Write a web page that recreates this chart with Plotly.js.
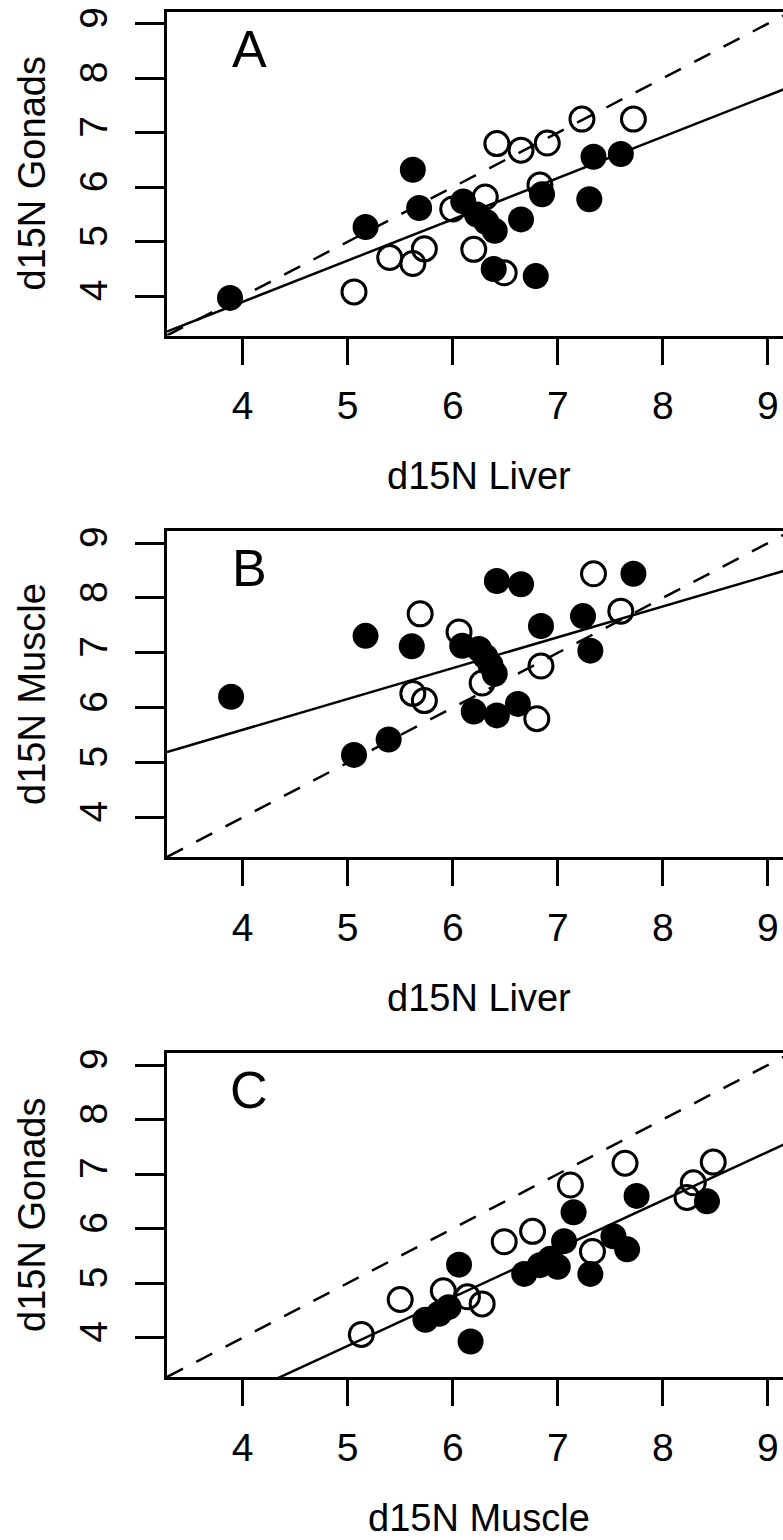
<!DOCTYPE html>
<html>
<head>
<meta charset="utf-8">
<script src="https://cdn.plot.ly/plotly-3.0.1.min.js"></script>
<style>
html, body { margin:0; padding:0; overflow:hidden; background:#fff; }
#chart { width:800px; height:1540px; }
</style>
</head>
<body>
<div id="chart"></div>
<script>
// ---- data ----
// Panel A: x = d15N Liver, y = d15N Gonads
const aClosedX = [3.88, 5.17, 5.62, 5.68, 6.10, 6.23, 6.32, 6.40, 6.65, 6.85, 6.39, 6.79, 7.34, 7.60, 7.30];
const aClosedY = [3.97, 5.27, 6.32, 5.62, 5.74, 5.50, 5.36, 5.20, 5.41, 5.87, 4.50, 4.37, 6.56, 6.61, 5.78];
const aOpenX = [5.06, 5.40, 5.62, 5.73, 6.20, 6.49, 6.31, 6.00, 6.83, 6.42, 6.65, 6.90, 7.23, 7.72];
const aOpenY = [4.08, 4.71, 4.60, 4.87, 4.86, 4.43, 5.82, 5.60, 6.04, 6.80, 6.68, 6.81, 7.25, 7.25];

// Panel B: x = d15N Liver, y = d15N Muscle
const bClosedX = [3.89, 5.17, 5.61, 6.42, 6.65, 7.72, 7.24, 6.84, 7.31, 5.06, 5.39, 6.09, 6.25, 6.31, 6.36, 6.40, 6.20, 6.42, 6.62];
const bClosedY = [6.20, 7.31, 7.12, 8.31, 8.25, 8.44, 7.67, 7.49, 7.04, 5.14, 5.42, 7.13, 7.07, 6.93, 6.78, 6.62, 5.93, 5.86, 6.07];
const bOpenX = [5.69, 6.06, 5.62, 5.73, 7.34, 7.60, 6.84, 6.80, 6.28];
const bOpenY = [7.71, 7.38, 6.26, 6.13, 8.44, 7.76, 6.76, 5.80, 6.45];

// Panel C: x = d15N Muscle, y = d15N Gonads
const cClosedX = [6.06, 6.17, 5.74, 5.87, 5.96, 7.15, 7.75, 8.42, 6.68, 6.83, 6.93, 7.00, 7.06, 7.31, 7.53, 7.66];
const cClosedY = [5.34, 3.93, 4.33, 4.44, 4.56, 6.30, 6.60, 6.50, 5.17, 5.33, 5.45, 5.30, 5.77, 5.17, 5.86, 5.62];
const cOpenX = [5.13, 5.50, 5.91, 6.14, 6.28, 6.49, 6.76, 7.12, 7.64, 8.48, 8.29, 8.23, 7.33];
const cOpenY = [4.06, 4.70, 4.86, 4.75, 4.62, 5.76, 5.95, 6.80, 7.20, 7.22, 6.84, 6.57, 5.58];

// fitted regression lines (solid) per panel, and 1:1 reference line (dashed)
const fitIntercept = [0.87, 3.35, -0.595];
const fitSlope = [0.757, 0.562, 0.889];
const refIntercept = [0, 0, 0];
const refSlope = [1, 1, 1];

const panelLetters = ["A", "B", "C"];
const xTitles = ["d15N Liver", "d15N Liver", "d15N Muscle"];
const yTitles = ["d15N Gonads", "d15N Muscle", "d15N Gonads"];
const tickValues = [4, 5, 6, 7, 8, 9];
const axisRange = [3.28, 9.22];

// ---- layout geometry (pixels) ----
const W = 800, H = 1540;
const plotLeft = 167, plotRight = 791;
const panelTop = [11.7, 531, 1053];
const panelBottom = [335.5, 857, 1377];
const FONT = "Liberation Sans, Arial, sans-serif";

const closedX = [aClosedX, bClosedX, cClosedX];
const closedY = [aClosedY, bClosedY, cClosedY];
const openX = [aOpenX, bOpenX, cOpenX];
const openY = [aOpenY, bOpenY, cOpenY];

const traces = [];
const layout = {
  width: W, height: H,
  margin: {l: 0, r: 0, t: 0, b: 0, pad: 0},
  paper_bgcolor: "#fff", plot_bgcolor: "#fff",
  showlegend: false,
  annotations: []
};

for (let i = 0; i < 3; i++) {
  const xa = i === 0 ? "x" : "x" + (i + 1);
  const ya = i === 0 ? "y" : "y" + (i + 1);
  const xKey = i === 0 ? "xaxis" : "xaxis" + (i + 1);
  const yKey = i === 0 ? "yaxis" : "yaxis" + (i + 1);

  const lx = [axisRange[0], axisRange[1]];
  // reference 1:1 dashed line
  traces.push({
    x: lx, y: lx.map(v => refIntercept[i] + refSlope[i] * v),
    xaxis: xa, yaxis: ya, mode: "lines", hoverinfo: "skip",
    line: {color: "black", width: 2.5, dash: "18px,15px"}
  });
  // fitted line
  traces.push({
    x: lx, y: lx.map(v => fitIntercept[i] + fitSlope[i] * v),
    xaxis: xa, yaxis: ya, mode: "lines", hoverinfo: "skip",
    line: {color: "black", width: 2.5}
  });
  // open circles
  traces.push({
    x: openX[i], y: openY[i], xaxis: xa, yaxis: ya, mode: "markers",
    marker: {symbol: "circle-open", size: 24, color: "black", line: {width: 3, color: "black"}}
  });
  // filled circles
  traces.push({
    x: closedX[i], y: closedY[i], xaxis: xa, yaxis: ya, mode: "markers",
    marker: {symbol: "circle", size: 26, color: "black", line: {width: 0}}
  });

  const common = {
    range: axisRange, showgrid: false, zeroline: false,
    showline: true, mirror: true, linecolor: "black", linewidth: 3,
    ticks: "outside", tickwidth: 3, tickcolor: "black",
    tickmode: "array", tickvals: tickValues, ticktext: tickValues.map(String),
    tickfont: {family: FONT, size: 39, color: "black"},
    fixedrange: true
  };
  layout[xKey] = Object.assign({}, common, {
    domain: [plotLeft / W, plotRight / W],
    anchor: ya, ticklen: 26, ticklabelstandoff: 8
  });
  layout[yKey] = Object.assign({}, common, {
    domain: [1 - panelBottom[i] / H, 1 - panelTop[i] / H],
    anchor: xa, ticklen: 29, tickangle: -90, ticklabelstandoff: 12
  });

  // panel letter
  layout.annotations.push({
    xref: "paper", yref: "paper", x: 249 / W, y: 1 - (panelTop[i] + 37) / H,
    xanchor: "center", yanchor: "middle", showarrow: false,
    text: panelLetters[i], font: {family: FONT, size: 52, color: "black"}
  });
  // x title
  layout.annotations.push({
    xref: "paper", yref: "paper", x: (plotLeft + plotRight) / 2 / W, y: 1 - (panelBottom[i] + 141) / H,
    xanchor: "center", yanchor: "middle", showarrow: false,
    text: xTitles[i], font: {family: FONT, size: 38, color: "black"}
  });
  // y title
  layout.annotations.push({
    xref: "paper", yref: "paper", x: 32 / W, y: 1 - (panelTop[i] + panelBottom[i]) / 2 / H,
    xanchor: "center", yanchor: "middle", showarrow: false, textangle: -90,
    text: yTitles[i], font: {family: FONT, size: 38, color: "black"}
  });
}

Plotly.newPlot("chart", traces, layout, {staticPlot: true, displayModeBar: false});
</script>
</body>
</html>
